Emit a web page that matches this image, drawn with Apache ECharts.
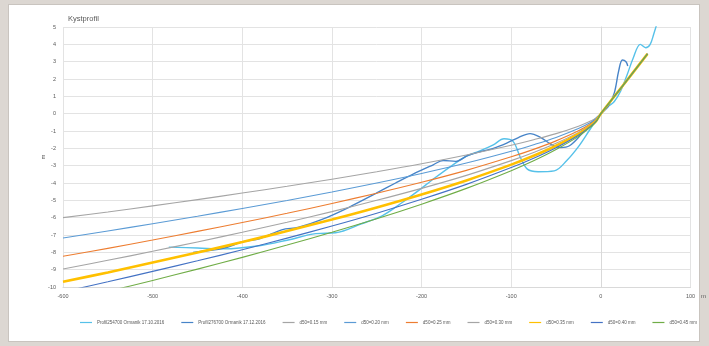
<!DOCTYPE html>
<html><head><meta charset="utf-8">
<script src="https://cdn.jsdelivr.net/npm/echarts@6/dist/echarts.min.js"></script>
<style>html,body{margin:0;padding:0;background:#dcd7d2;}#wrap{position:absolute;left:8px;top:4px;width:692px;height:338px;background:#fff;border:1px solid #c9c4bf;box-sizing:border-box;}#c{position:absolute;left:0;top:0;width:709px;height:346px;}</style>
</head><body><div id="wrap"></div><div id="c"></div>
<script>
var seriesNames = ['Profil254700 Ormanik 17.10.2016','Profil276700 Ormanik 17.12.2016','d50=0.15 mm','d50=0.20 mm','d50=0.25 mm','d50=0.30 mm','d50=0.35 mm','d50=0.40 mm','d50=0.45 mm'];
var xTicks = [-600,-500,-400,-300,-200,-100,0,100];
var profile1 = [[-482,-7.7],[-450,-7.75],[-420,-7.8],[-381,-7.62],[-350,-7.3],[-318,-6.92],[-296,-6.87],[-267,-6.35],[-244,-5.89],[-222,-5.14],[-205,-4.5],[-185,-3.7],[-165,-2.95],[-150,-2.45],[-135,-2.15],[-120,-1.8],[-108,-1.45],[-98,-1.6],[-90,-2.5],[-82,-3.2],[-70,-3.35],[-52,-3.3],[-38,-2.7],[-25,-1.9],[-12,-0.9],[0,0],[8,0.4],[15,0.7],[22,1.3],[29,2.2],[36,3.2],[44,4.0],[50,3.8],[55,4.0],[59,4.6],[62,5.1]];
var profile2 = [[-455,-8.0],[-420,-7.75],[-400,-7.4],[-380,-7.2],[-356,-6.7],[-337,-6.55],[-311,-6.1],[-281,-5.4],[-251,-4.6],[-229,-4.0],[-210,-3.5],[-187,-2.95],[-176,-2.7],[-162,-2.75],[-148,-2.4],[-135,-2.2],[-120,-2.0],[-105,-1.7],[-92,-1.38],[-79,-1.15],[-67,-1.38],[-56,-1.75],[-45,-1.95],[-35,-1.85],[-22,-1.2],[-10,-0.5],[0,0],[8,0.4],[15,1.2],[20,2.5],[24,3.1],[28,3.0],[30,2.75]];
var eqX = [-600,-550,-500,-450,-400,-350,-300,-250,-200,-150,-100,-75,-50,-25,-10,-5,0,25,52];
var d015 = [-6.00,-5.67,-5.32,-4.96,-4.58,-4.19,-3.78,-3.35,-2.89,-2.38,-1.82,-1.50,-1.15,-0.72,-0.39,-0.25,0,1.65,3.45];
var d020 = [-7.17,-6.77,-6.35,-5.92,-5.47,-5.01,-4.52,-4.00,-3.45,-2.85,-2.17,-1.79,-1.37,-0.86,-0.47,-0.29,0,1.65,3.45];
var d025 = [-8.23,-7.77,-7.29,-6.79,-6.28,-5.75,-5.18,-4.59,-3.96,-3.27,-2.49,-2.06,-1.57,-0.99,-0.54,-0.34,0,1.65,3.45];
var d030 = [-8.96,-8.46,-7.94,-7.40,-6.84,-6.26,-5.65,-5.00,-4.31,-3.56,-2.71,-2.24,-1.71,-1.08,-0.58,-0.37,0,1.65,3.45];
var d035 = [-9.70,-9.16,-8.59,-8.01,-7.41,-6.77,-6.11,-5.41,-4.66,-3.85,-2.94,-2.43,-1.85,-1.17,-0.63,-0.40,0,1.65,3.45];
var d040 = [-10.28,-9.70,-9.10,-8.49,-7.85,-7.18,-6.48,-5.74,-4.94,-4.08,-3.11,-2.57,-1.96,-1.24,-0.67,-0.42,0,1.65,3.45];
var d045 = [-10.86,-10.25,-9.62,-8.97,-8.29,-7.58,-6.84,-6.06,-5.22,-4.31,-3.29,-2.72,-2.07,-1.31,-0.71,-0.45,0,1.65,3.45];

var colors = ['#56C1E9','#4784C8','#A5A5A5','#5B9BD5','#ED7D31','#A5A5A5','#FFC000','#4472C4','#70AD47'];
var widths = [1.4,1.4,1.1,1.1,1.1,1.1,2.6,1.1,1.1];
function pair(xs, ys){ return xs.map(function(x,i){return [x, ys[i]];}); }
var datas = [profile1, profile2, pair(eqX,d015), pair(eqX,d020), pair(eqX,d025), pair(eqX,d030), pair(eqX,d035), pair(eqX,d040), pair(eqX,d045)];
var chart = echarts.init(document.getElementById('c'), null, {renderer:'canvas'});
var font = 'Liberation Sans';
chart.setOption({
  backgroundColor: 'transparent',
  animation: false,
  title: {text:'Kystprofil', left: 63, top: 10, textStyle:{fontSize:7.5, fontWeight:'normal', color:'#595959', fontFamily:font}},
  grid: {left:63, right:16, top:27, bottom:59},
  xAxis: {type:'value', min:-600, max:100, interval:100, name:'m', nameLocation:'end', nameGap:8,
    nameTextStyle:{fontSize:6, color:'#595959', fontFamily:font, verticalAlign:'top', padding:[6,0,0,0]},
    axisLine:{onZero:false, lineStyle:{color:'#d9d9d9'}}, axisTick:{show:false},
    axisLabel:{fontSize:5.5, color:'#595959', fontFamily:font, margin:6},
    splitLine:{show:true, lineStyle:{color:'#e3e3e3', width:1}}},
  yAxis: {type:'value', min:-10, max:5, interval:1, name:'m', nameLocation:'middle', nameGap:17, nameRotate:90, nameMoveOverlap:false,
    nameTextStyle:{fontSize:6, color:'#595959', fontFamily:font},
    axisLine:{show:true, lineStyle:{color:'#d9d9d9'}}, axisTick:{show:false},
    axisLabel:{fontSize:5.5, color:'#595959', fontFamily:font, margin:7},
    splitLine:{show:true, lineStyle:{color:'#e3e3e3', width:1}}},
  legend: {left: 80, top: 320, padding: 0, itemWidth: 12, itemHeight: 6, itemGap: 17, icon: 'path://M0,0 L10,0 L10,1 L0,1 Z',
    textStyle:{fontSize:4.5, color:'#595959', fontFamily:font}, data: seriesNames},
  series: datas.map(function(d,i){ return {name: seriesNames[i], type:'line', data:d, smooth:0.35, showSymbol:false, symbol:'none',
    color: colors[i], lineStyle:{color:colors[i], width:widths[i]}, z: 2+i, clip:true}; })
});
</script></body></html>
